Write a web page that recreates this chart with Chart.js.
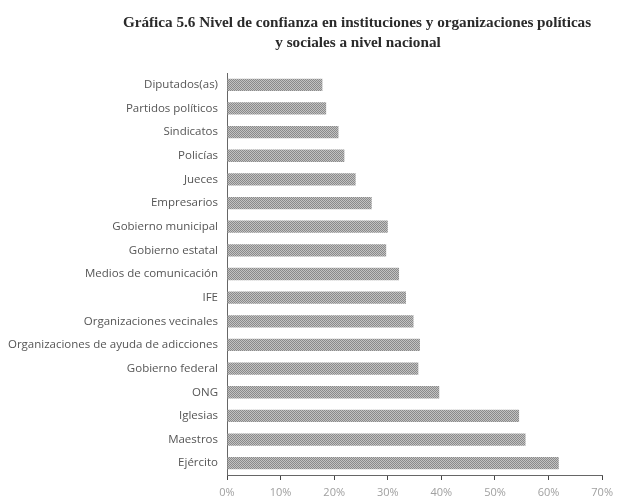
<!DOCTYPE html>
<html>
<head>
<meta charset="utf-8">
<script src="https://cdn.jsdelivr.net/npm/chart.js@4"></script>
<style>
  html, body { margin: 0; padding: 0; background: #fff; }
  #wrap { width: 619px; height: 500px; }
</style>
</head>
<body>
<div id="wrap"><canvas id="chart" width="619" height="500"></canvas></div>
<script>
// Datos
const categories = [
    'Diputados(as)', 'Partidos políticos', 'Sindicatos', 'Policías', 'Jueces',
    'Empresarios', 'Gobierno municipal', 'Gobierno estatal', 'Medios de comunicación',
    'IFE', 'Organizaciones vecinales', 'Organizaciones de ayuda de adicciones',
    'Gobierno federal', 'ONG', 'Iglesias', 'Maestros', 'Ejército'
];
const values = [17.8, 18.5, 20.8, 21.9, 24.0, 27.0, 30.0, 29.7, 32.1, 33.4, 34.8, 36.0, 35.7, 39.6, 54.5, 55.7, 61.9];
const titleLines = [
    'Gráfica 5.6 Nivel de confianza en instituciones y organizaciones políticas',
    'y sociales a nivel nacional'
];
const axisMax = 70;
const axisStep = 10;

// textura gris tramada de las barras
function makePattern() {
    const c = document.createElement('canvas');
    c.width = 2; c.height = 2;
    const g = c.getContext('2d');
    g.fillStyle = '#c2c2c2'; g.fillRect(0, 0, 2, 2);
    g.fillStyle = '#8a8a8a'; g.fillRect(0, 0, 1, 1); g.fillRect(1, 1, 1, 1);
    return g.createPattern(c, 'repeat');
}

// título desplazado a la derecha como en el original
const titlePlugin = {
    id: 'tituloGrafica',
    afterDraw(chart) {
        const g = chart.ctx;
        g.save();
        g.fillStyle = '#2a2a2a';
        g.font = "bold 15.2px 'Liberation Serif', 'DejaVu Serif', serif";
        g.textAlign = 'center';
        g.textBaseline = 'middle';
        g.fillText(titleLines[0], 357, 23);
        g.fillText(titleLines[1], 358, 43);
        g.restore();
    }
};

Chart.defaults.font.family = "'Open Sans', 'DejaVu Sans', sans-serif";

const ctx = document.getElementById('chart').getContext('2d');
new Chart(ctx, {
    type: 'bar',
    data: {
        labels: categories,
        datasets: [{
            data: values,
            backgroundColor: makePattern(),
            borderWidth: 0,
            barPercentage: 0.52,
            categoryPercentage: 1
        }]
    },
    options: {
        indexAxis: 'y',
        responsive: false,
        animation: false,
        layout: { padding: { top: 73, right: 12, bottom: 0, left: 0 } },
        plugins: {
            legend: { display: false },
            tooltip: { enabled: false },
            title: { display: false }
        },
        scales: {
            x: {
                min: 0,
                max: axisMax,
                ticks: {
                    stepSize: axisStep,
                    color: '#a0a0a0',
                    font: { size: 11 },
                    padding: 6,
                    callback: v => v + '%'
                },
                grid: {
                    drawOnChartArea: false,
                    drawTicks: true,
                    tickLength: 5,
                    color: '#444'
                },
                border: { display: true, color: '#666', dash: [2, 2] },
                afterFit: s => { s.height = 25; }
            },
            y: {
                ticks: {
                    color: '#555',
                    font: { size: 11.5 },
                    padding: 9,
                    autoSkip: false
                },
                grid: { display: false, drawTicks: false },
                border: { display: true, color: '#666', dash: [2, 2] },
                afterFit: s => { s.width = 227; }
            }
        }
    },
    plugins: [titlePlugin]
});
</script>
</body>
</html>
